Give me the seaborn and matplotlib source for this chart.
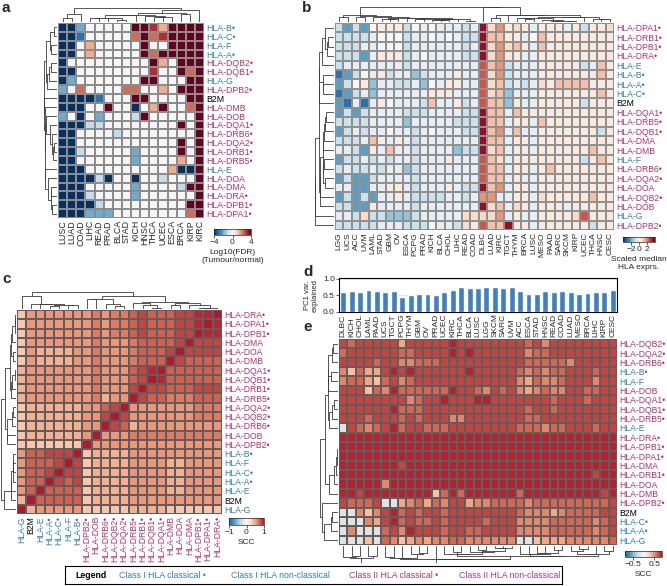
import numpy as np
import pandas as pd
import seaborn as sns
import matplotlib.pyplot as plt
from matplotlib.colors import LinearSegmentedColormap

W, H = 667, 586

# ---------------- genes / cancer types ----------------
CLASSICAL = {"A", "B", "C", "DPA1", "DPB1", "DQA1", "DQB1", "DRA", "DRB1",
             "DQA2", "DQB2", "DRB5", "DRB6", "DPB2"}
CLASS1 = {"A", "B", "C", "E", "F", "G"}
BLUE, CRIM, PURP = "#2E7DBB", "#B5306C", "#B02FB4"

# panel a: log10(FDR) tumour vs normal, one letter per cancer
a_genes = ["B", "C", "F", "A", "DQB2", "DQB1", "G", "DPB2", "B2M", "DMB", "DOB",
           "DQA1", "DRB6", "DQA2", "DRB1", "DRB5", "E", "DOA", "DMA", "DRA", "DPB1", "DPA1"]
a_cancers = ["LUSC", "LUAD", "COAD", "LIHC", "READ", "PRAD", "BLCA", "STAD",
             "KICH", "HNSC", "THCA", "UCEC", "ESCA", "BRCA", "KIRP", "KIRC"]
a_levels = {"D": -4, "B": -3, "b": -2, "l": -1, ".": 0, "p": 1.5, "r": 2.3, "R": 3, "X": 4}
a_rows = ["DDb. .... XXRp XXXX", "DDB. .... rXrR XXXX", "DD.p .... .X.. XXXX",
          "DD.p .... .XrX XXXX", "D... .... ..Xp .XXX", "DD.. .... ..R. .XrX",
          "Db.. .... .XX. ..XX", "b.r. ...r r..p .XXX", "DDDD B... XX.. ..XX",
          "DDD. .X.. D.pX ..rX", "b.D. b... lX.. ...X", "DDDl l... .... .X.X",
          "DD.. ..l. .... ...X", "DD.. .... .... .X.X", "DDl. .... b... .X.X",
          "DD.. .... b... .p.X", "DDD. .... .... pDDX", "DDDD lD.. D..l ...X",
          "DDD. .... b... .lXX", "DDDl .... b... ...X", "DDDD l... .... ..XX",
          "DDDb bb.. .... ..rX"]

# panel b: scaled median expression, one string per cancer (top->bottom genes)
b_genes = ["DPA1", "DRB1", "DPB1", "DRA", "E", "B", "A", "C", "B2M", "DQA1", "DRB5",
           "DQB1", "DMA", "DMB", "F", "DRB6", "DQA2", "DOA", "DQB2", "DOB", "G", "DPB2"]
b_cancers = ["LGG", "UCS", "ACC", "UVM", "LAML", "STAD", "GBM", "OV", "ESCA", "PCPG",
             "PRAD", "KICH", "BLCA", "CHOL", "LIHC", "READ", "COAD", "DLBC", "LUAD",
             "KIRC", "TGCT", "THYM", "BRCA", "LUSC", "MESO", "PAAD", "SARC", "SKCM",
             "KIRP", "UCEC", "THCA", "HNSC", "CESC"]
b_levels = {"D": -3.0, "B": -2.2, "b": -1.6, "l": -0.9, "w": -0.4, ".": 0,
            "q": 0.4, "p": 0.8, "o": 1.2, "r": 1.8, "R": 2.5, "X": 3.5}
b_cols = ["lllll DBDBB lBlwB lBwBl wl", "Blllw BlBDl lllwl wlwll wl",
          "llllw l.lwB lwlll lBBBB ll", "BlwBw .qwDl llwBw lBBlB pl",
          ".wwww wbbww wwoql wlwBq ll", "q..qw qwwqw wwqww lwwww lw",
          "q..qw lww.w w.wol wwqww bw", "q..qw wlwww wwqww wwqqw bw",
          "lllll wlwwl bwwww bwwww bl", ".wwww bwwwl wllll lllll ll",
          "www.w lbwll wwwww wwwlw wl", "..www w.qow w.www wwwlw w.",
          "wwwww wwqww wwwww wwwlw ww", "w.www wqqww wwwwq wwqww ww",
          "wwwww qqwqw lwwbw wwwww wl", "llllw wwwll llwlw wwllw pp",
          "wlwlw wwwwl llwlw wwlww pq", "XXXXR RRRRX XXXXR RRXrX pR",
          "poppo pppoo ooopo ooorp po", "rorrr roooo oroop oorwo ro",
          "qqpql llbbw wwwww wwwww wX", "pqoqw wwwqo qoqqq qqqqp qq",
          "qwqww wlwwq qwqqq qwqqq wq", "w.www wwwwq wwwwq wwwww ww",
          "qooqq qpqqq oqqqq qqqpq qq", "qqqqq qqqqq qqqqq oqqqq qq",
          "qqqqq qoqqq qqqqq qqqqq qq", "wqqqq qoqqq qqqqq qqqqw qq",
          "qqqqq qoqqq qqqqq qqqqq pq", "lqqql qoqlq qqqql qqqqq Rq",
          "qqqqw qqqqq qqqoq qqqoq ql", "qqqqo oqoqq qlqqo qqqqq qq",
          "pqqqq qqqqq qqqqq qqqqq qq"]

# panel c: pan-cancer SCC between genes, lower triangle (tenths)
c_genes = ["G", "B2M", "E", "A", "C", "F", "B", "DPB2", "DOB", "DRB6", "DQB2", "DQA2",
           "DRB5", "DRB1", "DQB1", "DQA1", "DMB", "DOA", "DMA", "DPB1", "DPA1", "DRA"]
c_lower = ["", "4", "57", "577", "5778", "57778", "577888", "3333333", "34444445",
           "344444455", "3444444558", "34444445578", "455555556455", "4555555565558",
           "45555555655578", "455555556555789", "3544445565556777",
           "35444455655567778", "355555556555677778", "3555555565667877788",
           "35555555656678777889", "355555556566787778899"]

# panel d: PC1 variance explained per cancer
e_cancers = ["DLBC", "KICH", "CHOL", "LAML", "PAAD", "UCS", "TGCT", "PCPG", "THYM", "GBM",
             "OV", "PRAD", "UCEC", "KIRC", "THCA", "BLCA", "LUSC", "LGG", "SKCM", "SARC",
             "UVM", "ACC", "ESCA", "STAD", "HNSC", "READ", "COAD", "LUAD", "MESO", "BRCA",
             "LIHC", "KIRP", "CESC"]
pc1_var = [0.62, 0.63, 0.60, 0.68, 0.63, 0.62, 0.63, 0.44, 0.50, 0.54, 0.56, 0.51, 0.62,
           0.67, 0.76, 0.73, 0.72, 0.76, 0.76, 0.74, 0.76, 0.64, 0.55, 0.56, 0.64, 0.60,
           0.64, 0.60, 0.55, 0.58, 0.60, 0.60, 0.66]

# panel e: SCC of each gene with PC1, one string per cancer (tenths, n = NA)
e_genes = ["DQB2", "DQA2", "DRB6", "B", "F", "DOB", "DQA1", "DQB1", "DRB5", "E", "DRA",
           "DPB1", "DPA1", "DMA", "DRB1", "DOA", "DMB", "DPB2", "B2M", "C", "A", "G"]
e_cols = ["767557777n 8888888 7 nnnn", "6773677777 8888888 6 nn5n",
          "7776677776 8888887 6 5nnn", "7774437765 8888888 6 35n3",
          "7764367776 8888888 7 54nn", "7777657777 8888858 n 7766",
          "7778787878 8888888 n 8875", "4657567666 8887888 4 6653",
          "7658665677 8888888 5 7784", "7767766667 8888888 6 6675",
          "7767767776 8888888 4 7674", "7767767776 8888883 6 7775",
          "7777768776 8888886 5 6665", "8877787757 8888888 7 7776",
          "7777777757 8888886 7 7776", "7878777777 8888888 4 7765",
          "7777768777 8888888 5 7765", "7777758777 8888888 5 7675",
          "7777777777 8888888 6 7775", "7777767777 8888888 6 7775",
          "7777777777 8888888 6 7775", "7776557776 8888886 6 655n",
          "6565447666 8888888 5 555n", "7666657766 8888888 6 5553",
          "5665567775 8888888 6 5554", "7766556676 8888888 6 4664",
          "7766657776 8888888 6 5664", "7757777777 8888888 6 6665",
          "7777777777 8888888 6 6665", "7777766777 8888888 6 6665",
          "7776567776 8888788 6 6555", "7777777777 8888887 6 7665",
          "7777777777 8888888 7 7776"]


def gene_label(g):
    if g == "B2M":
        return "B2M"
    return "HLA-" + g + ("\u2022" if g in CLASSICAL else "")


def gene_color(g):
    if g == "B2M":
        return "black"
    return BLUE if g in CLASS1 else CRIM


def rect(x0, y0, x1, y1):
    return [x0 / W, 1 - y1 / H, (x1 - x0) / W, (y1 - y0) / H]


# ---------------- build tables ----------------
a_df = pd.DataFrame([[a_levels[c] for c in r.replace(" ", "")] for r in a_rows],
                    index=a_genes, columns=a_cancers)
b_df = pd.DataFrame(np.array([[b_levels[c] for c in s.replace(" ", "")] for s in b_cols]).T,
                    index=b_genes, columns=b_cancers)
n = len(c_genes)
cm = np.eye(n)
for i, s in enumerate(c_lower):
    for j, ch in enumerate(s):
        cm[i, j] = cm[j, i] = int(ch) / 10 + 0.05
c_df = pd.DataFrame(cm[::-1], index=c_genes[::-1], columns=c_genes)
e_df = pd.DataFrame(np.array([[np.nan if c == "n" else int(c) / 10 + 0.02
                               for c in s.replace(" ", "")] for s in e_cols]).T,
                    index=e_genes, columns=e_cancers)


# ---------------- dendrograms (adjacent average linkage on shown order) ----------------
def tree_links(m):
    m = np.nan_to_num(np.asarray(m, float), nan=0.3)
    groups = [[i] for i in range(len(m))]
    pos = [i + 0.5 for i in range(len(m))]
    hts = [0.0] * len(m)
    links = []
    while len(groups) > 1:
        dist = [np.mean([np.linalg.norm(m[i] - m[j]) for i in groups[k] for j in groups[k + 1]])
                for k in range(len(groups) - 1)]
        k = int(np.argmin(dist))
        h = max(dist[k], hts[k], hts[k + 1])
        links.append((pos[k], hts[k], pos[k + 1], hts[k + 1], h))
        groups[k:k + 2] = [groups[k] + groups[k + 1]]
        pos[k:k + 2] = [(pos[k] + pos[k + 1]) / 2]
        hts[k:k + 2] = [h]
    return links


def draw_tree(fig, box, m, side):
    ax = fig.add_axes(rect(*box))
    ax.axis("off")
    links = tree_links(m)
    top = max(l[4] for l in links) * 1.01
    for x1, h1, x2, h2, h in links:
        xs, ys = [x1, x1, x2, x2], [h1, h, h, h2]
        if side == "left":
            ax.plot(ys, xs, color="#3a3a3a", lw=0.6)
        else:
            ax.plot(xs, ys, color="#3a3a3a", lw=0.6)
    k = len(m)
    if side == "left":
        ax.set_xlim(top, 0)
        ax.set_ylim(k, 0)
    elif side == "top":
        ax.set_xlim(0, k)
        ax.set_ylim(0, top)
    else:
        ax.set_xlim(0, k)
        ax.set_ylim(top, 0)


def heat(fig, df, box, cbox, cmap, vmin, vmax, lc):
    ax = fig.add_axes(rect(*box))
    cax = fig.add_axes(rect(*cbox))
    sns.heatmap(df, ax=ax, cmap=cmap, vmin=vmin, vmax=vmax, linewidths=0.35, linecolor=lc,
                cbar_ax=cax, cbar_kws={"orientation": "horizontal"})
    ax.collections[0].colorbar.outline.set_linewidth(0.5)
    ax.set_xlabel("")
    ax.set_ylabel("")
    return ax, cax


def label_heat(ax, rows, cols, rfs, cfs, col_genes=False, top=False):
    ax.yaxis.tick_right()
    ax.set_yticks(np.arange(len(rows)) + 0.5)
    ax.set_yticklabels([gene_label(g) for g in rows], rotation=0, fontsize=rfs)
    for t, g in zip(ax.get_yticklabels(), rows):
        t.set_color(gene_color(g))
    ax.set_xticks(np.arange(len(cols)) + 0.5)
    if col_genes:
        ax.set_xticklabels([gene_label(g) for g in cols], rotation=90, fontsize=cfs)
        for t, g in zip(ax.get_xticklabels(), cols):
            t.set_color(gene_color(g))
    else:
        ax.set_xticklabels(cols, rotation=90, fontsize=cfs)
    if top:
        ax.xaxis.tick_top()
    ax.tick_params(length=0, pad=1.5)


def label_cbar(cax, ticks, texts, label):
    cax.set_xticks(ticks)
    cax.set_xticklabels(texts, fontsize=6)
    cax.tick_params(length=2, width=0.5, pad=1)
    cax.set_xlabel(label, fontsize=6, labelpad=2, linespacing=1.3)


sns.set_theme(style="white")
plt.rcParams["font.family"] = ["Liberation Sans", "DejaVu Sans"]

fig = plt.figure(figsize=(W / 100, H / 100), dpi=100)

rdbu = plt.get_cmap("RdBu_r")
scc = LinearSegmentedColormap.from_list(
    "scc", ["#2166AC", "#4393C3", "#92C5DE", "#D1E5F0", "#F7F7F7",
            "#FDDBC7", "#F4A582", "#D6604D", "#B2182B"])

# --- a ---
ax, cax = heat(fig, a_df, (58, 23, 204, 218), (214, 229, 251, 235), rdbu, -4, 4, "#8c8c8c")
label_heat(ax, a_genes, a_cancers, 6.3, 6.4)
label_cbar(cax, [-4, 0, 4], ["\u22124", "0", "4"], "Log10(FDR)\n(Tumour/normal)")
draw_tree(fig, (58, 8, 204, 22), a_df.values.T, "top")
draw_tree(fig, (44, 23, 57, 218), a_df.values, "left")

# --- b ---
ax, cax = heat(fig, b_df, (335, 23, 614, 230), (623, 237, 655, 242), rdbu, -4, 4, "#909090")
label_heat(ax, b_genes, b_cancers, 6.2, 6.0)
label_cbar(cax, [-2, 0, 2], ["\u22122", "0", "2"], "Scaled median\nHLA exprs.")
draw_tree(fig, (335, 7, 614, 22), b_df.values.T, "top")
draw_tree(fig, (315, 23, 334, 230), b_df.values, "left")

# --- c ---
ax, cax = heat(fig, c_df, (17, 310, 222, 514), (229, 518, 264, 525), scc, -1, 1, "#5e5e5e")
label_heat(ax, list(c_df.index), c_genes, 6.2, 6.2, col_genes=True)
label_cbar(cax, [-1, 0, 1], ["\u22121", "0", "1"], "SCC")
draw_tree(fig, (17, 292, 222, 309), c_df.values.T, "top")
draw_tree(fig, (1, 310, 16, 514), c_df.values, "left")

# --- d ---
axd = fig.add_axes(rect(339, 278, 617, 312))
sns.barplot(x=e_cancers, y=pc1_var, color="#3F80C0", width=0.7, saturation=1, ax=axd)
axd.set_xlim(-0.5, len(e_cancers) - 0.5)
axd.set_ylim(0, 1.03)
axd.set_xticks([])
axd.set_yticks([0, 0.5, 1.0])
axd.set_yticklabels(["0.0", "0.5", "1.0"], fontsize=6)
axd.tick_params(axis="y", length=2, width=0.5, pad=1, left=True)
axd.yaxis.grid(True, color="#e4e4e4", lw=0.6)
axd.set_axisbelow(True)
axd.set_ylabel("PC1 var.\nexplained", fontsize=5.5, linespacing=1.1, labelpad=3)
for s in axd.spines.values():
    s.set_visible(True)
    s.set_color("black")
    s.set_linewidth(0.8)

# --- e ---
ax, cax = heat(fig, e_df, (339, 339, 617, 545), (625, 551, 662, 557), scc, -0.85, 0.85, "#5e5e5e")
ax.set_facecolor("#e2e2e2")
label_heat(ax, e_genes, e_cancers, 6.2, 6.0, top=True)
label_cbar(cax, [-0.5, 0.5], ["\u22120.5", "0.5"], "SCC")
draw_tree(fig, (339, 546, 617, 563), e_df.values.T, "bottom")
draw_tree(fig, (320, 339, 338, 545), e_df.values, "left")

# --- panel letters ---
for lt, x, y in [("a", 2, 1), ("b", 302, 1), ("c", 2, 272), ("d", 303, 265), ("e", 303, 320)]:
    fig.text(x / W, 1 - y / H, lt, fontsize=11, fontweight="bold", va="top", ha="left")

# --- legend box ---
axl = fig.add_axes(rect(65, 566, 562, 584))
axl.set_xticks([])
axl.set_yticks([])
for s in axl.spines.values():
    s.set_visible(True)
    s.set_color("black")
    s.set_linewidth(0.8)
leg_items = [("Legend", 75, "black", "bold"),
             ("Class I HLA classical \u2022", 119, BLUE, "normal"),
             ("Class I HLA non-classical", 231, BLUE, "normal"),
             ("Class II HLA classical \u2022", 349, CRIM, "normal"),
             ("Class II HLA non-classical", 459, PURP, "normal")]
for txt, x, col, wt in leg_items:
    axl.text((x - 65) / (562 - 65), 0.5, txt, color=col, fontweight=wt, fontsize=6.3,
             va="center", ha="left", transform=axl.transAxes)

fig.savefig("out.png", dpi=100)
